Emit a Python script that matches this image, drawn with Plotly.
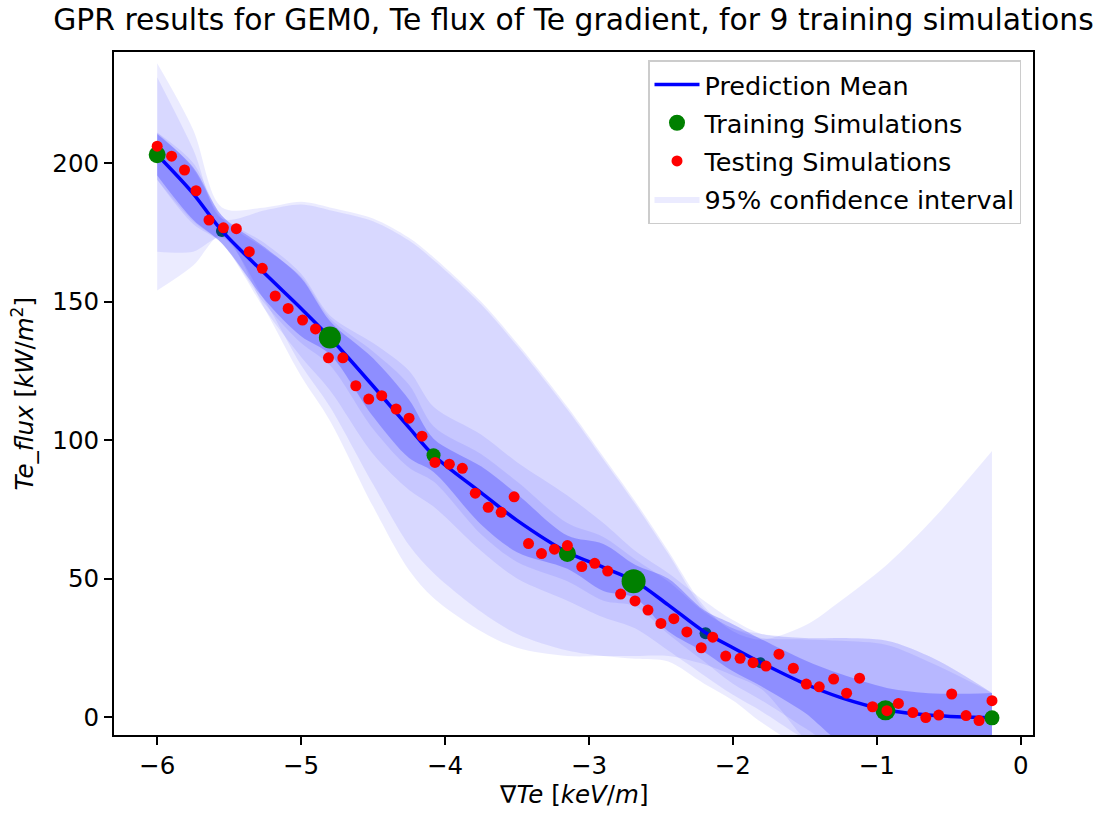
import plotly.graph_objects as go

# ---------------- data ----------------
title_text = "GPR results for GEM0, Te flux of Te gradient, for 9 training simulations"
x_tick_vals = [-6, -5, -4, -3, -2, -1, 0]
y_tick_vals = [0, 50, 100, 150, 200]

# grid on which the GPR mean and confidence bands were read
grid_x = [-6.0, -5.75, -5.55, -5.25, -5.0, -4.8, -4.5, -4.25, -4.08, -3.75, -3.5, -3.15,
          -2.9, -2.68, -2.45, -2.2, -2.0, -1.8, -1.5, -1.25, -0.93, -0.6, -0.2]
pred_mean = [203, 189, 175.5, 160, 147.5, 137, 119.5, 104.5, 94.5, 81, 71, 59.5,
             54, 49, 40.5, 30.8, 25, 19.5, 12, 7, 2.5, 0.5, -0.3]

# 95% confidence bands (several overlapping model runs)
band1_hi = [236, 212, 184, 184, 186, 184, 180, 173, 166, 150, 135, 112,
            94, 78, 60, 40, 31, 28, 33, 42, 55, 72, 96]
band1_lo = [154, 163, 174, 147, 123, 107, 76, 53, 43, 31, 25, 22,
            22, 22, 22, 19, 15, 10, -8, -20, -30, -35, -40]
band2_hi = [231, 205, 180, 183, 185, 183, 179, 172, 165, 149, 134, 111,
            93, 77, 59, 39, 32, 30, 28.5, 28.5, 27.5, 21, 8.7]
band2_lo = [168, 168, 173, 150, 127, 112, 84, 62, 52, 38, 30, 24,
            22, 21, 20, 12, 6, -2, -12, -20, -26, -30, -32]
band3_hi = [211, 200, 181, 171, 160, 145, 135, 125, 112, 102, 92, 80,
            70, 60, 52, 42, 35, 30, 28.5, 28.5, 27.5, 21, 8.7]
band3_lo = [194, 178, 171, 147, 130, 118, 95, 82, 76, 60, 50, 42,
            36, 32, 24, 15, 8, 2, -8, -15, -20, -22, -24]
band4_hi = [211, 198, 180, 169, 159, 144, 132, 120, 105, 95, 85, 70,
            65, 57, 49, 38, 32, 28.5, 28, 27.5, 26, 19, 8.7]
band4_lo = [194, 179, 171, 149, 135, 127, 104, 90, 85, 66, 56, 49,
            42, 40, 30, 20, 12, 6, -4, -12, -16, -18, -20]
# inner bands of the remaining runs (nearly coincident, read as one)
band5_hi = [210.5, 198.5, 181, 169.5, 158.5, 143, 129.5, 114.5, 100.5, 90.5, 80.5, 65.5,
            62.5, 55, 50, 38.5, 33.5, 28, 20.5, 15.5, 10.5, 8.5, 8.7]
band5_lo = [195.5, 179.5, 171, 150.5, 137.5, 131, 108.5, 93.5, 88.5, 69.5, 59.5, 53.5,
            45.5, 43, 31, 23.5, 16.5, 11, 1.5, -9, -13, -15, -16]

# training simulations (drawn above the bands / partly covered by bands)
train_x = [-6.0, -4.8, -4.08, -3.15, -2.69, -0.94, -0.2]
train_y = [203, 137, 94.5, 59, 49, 2.4, -0.3]
train_x_covered = [-5.55, -2.19, -1.81]
train_y_covered = [175.5, 30.2, 19.6]

# testing simulations
test_x = [-6.00, -5.90, -5.81, -5.73, -5.64, -5.54, -5.45, -5.36, -5.27, -5.18,
          -5.09, -4.99, -4.90, -4.81, -4.71, -4.62, -4.53, -4.44, -4.34, -4.25,
          -4.16, -4.07, -3.97, -3.88, -3.79, -3.70, -3.61, -3.52, -3.42, -3.33,
          -3.24, -3.15, -3.05, -2.96, -2.87, -2.78, -2.68, -2.59, -2.50, -2.41,
          -2.32, -2.22, -2.14, -2.05, -1.95, -1.86, -1.77, -1.68, -1.58, -1.49,
          -1.40, -1.30, -1.21, -1.12, -1.03, -0.93, -0.85, -0.75, -0.66, -0.57,
          -0.48, -0.38, -0.29, -0.20]
test_y = [206.1, 202.5, 197.5, 190.0, 179.4, 176.6, 176.3, 168.0, 162.0, 152.0,
          147.5, 143.3, 140.1, 129.7, 129.7, 119.6, 114.8, 116.0, 111.2, 107.9,
          101.4, 91.9, 91.3, 89.8, 80.8, 75.7, 73.9, 79.5, 62.6, 59.0,
          60.6, 61.9, 54.3, 55.5, 52.7, 44.4, 41.9, 38.6, 33.8, 35.5,
          30.7, 25.0, 28.8, 22.0, 21.2, 19.6, 18.4, 22.7, 17.6, 11.9,
          10.9, 13.7, 8.6, 14.0, 3.7, 2.3, 4.9, 1.6, -0.2, 0.7,
          8.3, 0.5, -1.3, 5.9]

# ---------------- styles ----------------
FONT = "DejaVu Sans"
BAND_COLOR = "rgba(0,0,255,0.08)"
INNER_BAND_COLOR = "rgba(0,0,255,0.22)"
train_sizes = [17, 22, 14, 17, 24, 20, 15]
train_sizes_covered = [12, 12, 11]

fig = go.Figure()

fig.add_trace(go.Scatter(x=train_x_covered, y=train_y_covered, mode="markers",
                         marker=dict(color="green", size=train_sizes_covered, opacity=1,
                                     line=dict(width=0)),
                         showlegend=False, hoverinfo="skip"))

bands = [(band1_lo, band1_hi, BAND_COLOR), (band2_lo, band2_hi, BAND_COLOR),
         (band3_lo, band3_hi, BAND_COLOR), (band4_lo, band4_hi, BAND_COLOR),
         (band5_lo, band5_hi, INNER_BAND_COLOR)]
for i, (lo, hi, col) in enumerate(bands):
    fig.add_trace(go.Scatter(x=grid_x, y=lo, mode="lines",
                             line=dict(width=0, shape="spline", smoothing=0.9),
                             showlegend=False, hoverinfo="skip"))
    fig.add_trace(go.Scatter(x=grid_x, y=hi, mode="lines", fill="tonexty",
                             fillcolor=col,
                             line=dict(width=0, shape="spline", smoothing=0.9),
                             name="95% confidence interval", legendrank=4,
                             legendgroup="d",
                             showlegend=(i == 0), hoverinfo="skip"))

fig.add_trace(go.Scatter(x=grid_x, y=pred_mean, mode="lines",
                         line=dict(color="blue", width=3.5, shape="spline", smoothing=0.9),
                         name="Prediction Mean", legendrank=1, legendgroup="a"))

fig.add_trace(go.Scatter(x=train_x, y=train_y, mode="markers",
                         marker=dict(color="green", size=train_sizes, opacity=1,
                                     line=dict(width=0)),
                         name="Training Simulations", legendrank=2, legendgroup="b"))

fig.add_trace(go.Scatter(x=test_x, y=test_y, mode="markers",
                         marker=dict(color="red", size=11, opacity=1, line=dict(width=0)),
                         name="Testing Simulations", legendrank=3, legendgroup="c"))

L, R, T, B = 114, 72, 52, 78
W, H = 1105, 813
pw, ph = W - L - R, H - T - B

fig.update_layout(
    width=W, height=H,
    margin=dict(l=L, r=R, t=T, b=B, pad=0),
    paper_bgcolor="white", plot_bgcolor="white",
    font=dict(family=FONT, size=24.5, color="black"),
    title=dict(text=title_text, x=0.5, xref="paper", xanchor="center",
               y=1 - 20 / H, yref="container", yanchor="middle",
               font=dict(family=FONT, size=29.8, color="black")),
    showlegend=True,
    legend=dict(x=(1021 - L) / pw, xanchor="right", y=1 - (60 - T) / ph, yanchor="top",
                bgcolor="rgba(255,255,255,0.8)", bordercolor="#cccccc", borderwidth=1.5,
                font=dict(family=FONT, size=25.5, color="black"),
                traceorder="grouped", tracegroupgap=2, itemsizing="trace", itemwidth=45),
    xaxis=dict(range=[-6.3, 0.085], tickvals=x_tick_vals, showgrid=False, zeroline=False,
               showline=True, linecolor="black", linewidth=2, mirror=True,
               ticks="outside", ticklen=8, tickwidth=2, tickcolor="black",
               tickfont=dict(family=FONT, size=24.5, color="black")),
    yaxis=dict(range=[-6.5, 240.1], tickvals=y_tick_vals, showgrid=False, zeroline=False,
               showline=True, linecolor="black", linewidth=2, mirror=True,
               ticks="outside", ticklen=8, tickwidth=2, tickcolor="black",
               tickfont=dict(family=FONT, size=24.5, color="black")),
    annotations=[
        dict(text="∇<i>Te</i> [<i>keV</i>/<i>m</i>]", xref="paper", yref="paper",
             x=0.5, y=(735 - 794) / ph, xanchor="center", yanchor="middle",
             showarrow=False, font=dict(family=FONT, size=24.5, color="black")),
        dict(text="<i>Te_flux</i> [<i>kW</i>/<i>m</i><sup>2</sup>]", xref="paper", yref="paper",
             x=(22 - L) / pw, y=0.5, xanchor="center", yanchor="middle", textangle=-90,
             showarrow=False, font=dict(family=FONT, size=24.5, color="black")),
    ],
)

fig.write_html("out.html")
